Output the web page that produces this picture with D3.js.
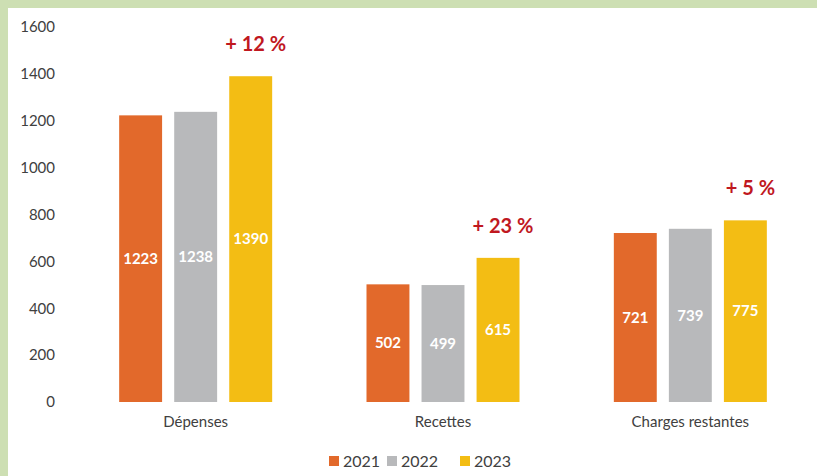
<!DOCTYPE html>
<html>
<head>
<meta charset="utf-8">
<script src="https://d3js.org/d3.v7.min.js"></script>
<style>
  html, body { margin: 0; padding: 0; background: #cddfb3; }
  svg { display: block; }
</style>
</head>
<body>
<svg id="chart" width="817" height="476"></svg>
<script>
const categories = ['Dépenses', 'Recettes', 'Charges restantes'];
const years = ['2021', '2022', '2023'];
const values2021 = [1223, 502, 721];
const values2022 = [1238, 499, 739];
const values2023 = [1390, 615, 775];
const growthLabels = ['+ 12 %', '+ 23 %', '+ 5 %'];
const yTicks = [0, 200, 400, 600, 800, 1000, 1200, 1400, 1600];

const colors = { '2021': '#e2692b', '2022': '#b8b9bb', '2023': '#f3bd14' };
const font = "Lato, 'Open Sans', sans-serif";

const width = 817, height = 476;
const svg = d3.select('#chart');

// green frame + white panel
svg.append('rect').attr('width', width).attr('height', height).attr('fill', '#cddfb3');
svg.append('rect').attr('x', 8).attr('y', 8).attr('width', width - 8).attr('height', height - 8).attr('fill', '#ffffff');

const series = years.map((y, i) => ({ year: y, values: [values2021, values2022, values2023][i] }));
const rows = categories.map((c, ci) => ({
  cat: c,
  growth: growthLabels[ci],
  bars: series.map(s => ({ year: s.year, value: s.values[ci] }))
}));

const groupWidth = 153;
const x0 = d3.scaleBand().domain(categories).range([72, 814]);
const x1 = d3.scaleBand().domain(years).range([0, groupWidth]).paddingInner(0.22);
const groupOffset = (x0.bandwidth() - groupWidth) / 2;
const y = d3.scaleLinear().domain([0, 1600]).range([402, 27]);

// y axis labels
const yAxis = d3.axisLeft(y).tickValues(yTicks).tickFormat(d3.format('d')).tickSize(0).tickPadding(0);
const gy = svg.append('g').attr('transform', 'translate(55,0)').call(yAxis);
gy.select('.domain').remove();
gy.selectAll('text').attr('font-family', font).attr('font-size', 15).attr('fill', '#404040');

// x axis labels
const xAxis = d3.axisBottom(x0).tickSize(0).tickPadding(0);
const gx = svg.append('g').attr('transform', 'translate(0,416)').call(xAxis);
gx.select('.domain').remove();
gx.selectAll('text').attr('font-family', font).attr('font-size', 15).attr('fill', '#404040');

const groups = svg.append('g').selectAll('g').data(rows).join('g')
  .attr('transform', d => `translate(${x0(d.cat) + groupOffset},0)`);

groups.selectAll('rect').data(d => d.bars).join('rect')
  .attr('x', d => x1(d.year))
  .attr('y', d => y(d.value))
  .attr('width', x1.bandwidth())
  .attr('height', d => y(0) - y(d.value))
  .attr('fill', d => colors[d.year]);

groups.selectAll('text.val').data(d => d.bars).join('text')
  .attr('class', 'val')
  .attr('x', d => x1(d.year) + x1.bandwidth() / 2)
  .attr('y', d => (y(d.value) + y(0)) / 2)
  .attr('dy', '0.35em')
  .attr('text-anchor', 'middle')
  .attr('font-family', font).attr('font-weight', 'bold').attr('font-size', 15)
  .attr('fill', '#ffffff')
  .text(d => d.value);

// growth annotations above the 2023 bar
groups.append('text')
  .attr('x', x1('2023') + x1.bandwidth() / 2 + 5)
  .attr('y', d => y(d.bars[2].value) - 32)
  .attr('dy', '0.35em')
  .attr('text-anchor', 'middle')
  .attr('font-family', font).attr('font-weight', 'bold').attr('font-size', 20)
  .attr('fill', '#c0181f')
  .text(d => d.growth);

// legend
const legend = svg.append('g').attr('transform', 'translate(329,461)');
const legendStep = [0, 58, 131];
const li = legend.selectAll('g').data(years).join('g')
  .attr('transform', (d, i) => `translate(${legendStep[i]},0)`);
li.append('rect').attr('x', 0).attr('y', -5).attr('width', 10).attr('height', 10).attr('fill', d => colors[d]);
li.append('text').attr('x', 14).attr('dy', '0.35em')
  .attr('font-family', font).attr('font-size', 16).attr('fill', '#404040')
  .text(d => d);
</script>
</body>
</html>
